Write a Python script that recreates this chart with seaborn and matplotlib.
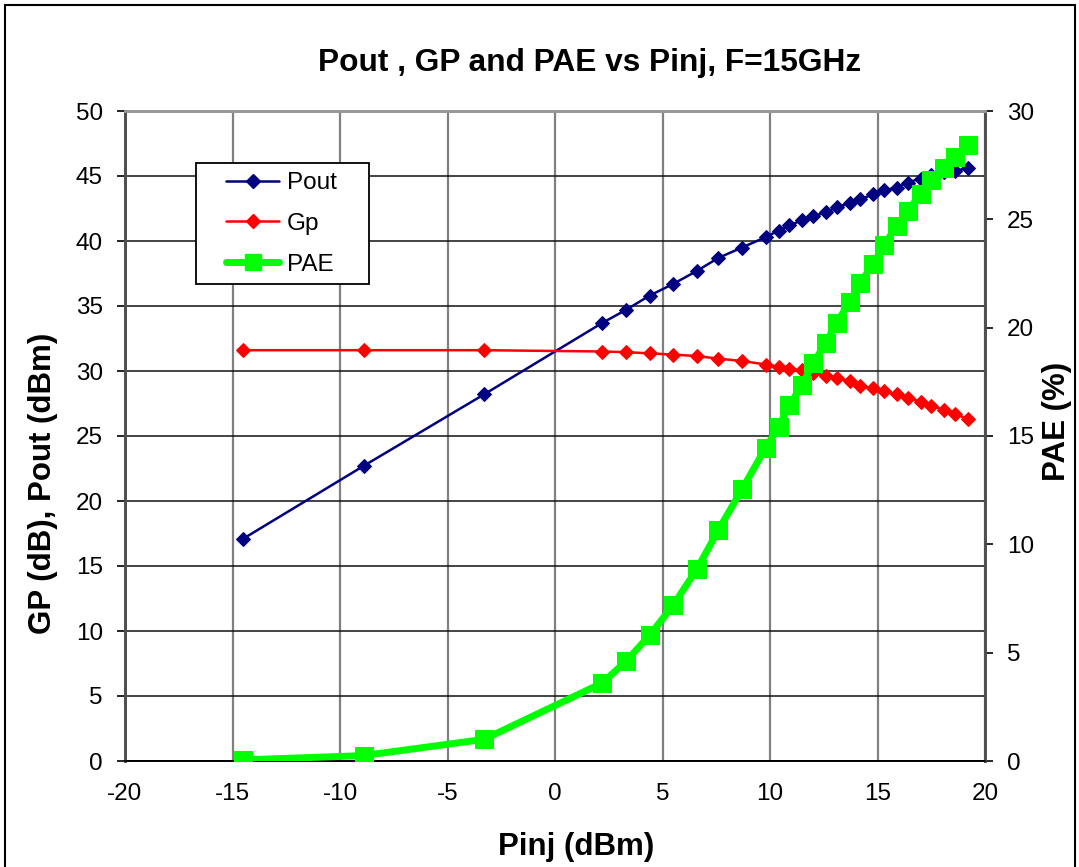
import matplotlib
matplotlib.use("Agg")
import matplotlib.pyplot as plt
import seaborn as sns
import numpy as np
from matplotlib.patches import Rectangle
from matplotlib.lines import Line2D

sns.set_theme(style="white")
plt.rcParams['font.family'] = ['Liberation Sans', 'DejaVu Sans']
plt.rcParams['axes.unicode_minus'] = False
for k in ('text.color', 'axes.labelcolor', 'xtick.color', 'ytick.color'):
    plt.rcParams[k] = 'black'

pinj = [-14.5, -8.9, -3.3, 2.2, 3.3, 4.4, 5.5, 6.6, 7.6, 8.7, 9.8, 10.4, 10.9, 11.5, 12.0,
        12.6, 13.1, 13.7, 14.2, 14.8, 15.3, 15.9, 16.4, 17.0, 17.5, 18.1, 18.6, 19.2]
pout = [17.1, 22.7, 28.2, 33.7, 34.7, 35.8, 36.7, 37.7, 38.7, 39.5, 40.3, 40.8, 41.2, 41.6, 41.9,
        42.2, 42.6, 42.9, 43.2, 43.6, 43.9, 44.1, 44.5, 44.8, 45.1, 45.3, 45.4, 45.6]
gp = [31.6, 31.6, 31.6, 31.5, 31.45, 31.36, 31.26, 31.15, 30.95, 30.77, 30.5, 30.33, 30.18, 30.05, 29.82,
      29.6, 29.44, 29.2, 28.85, 28.67, 28.48, 28.2, 27.95, 27.64, 27.33, 27.0, 26.7, 26.3]
pae = [0.05, 0.25, 1.0, 3.6, 4.6, 5.8, 7.2, 8.85, 10.66, 12.54, 14.46, 15.43, 16.43, 17.35, 18.35,
       19.3, 20.23, 21.17, 22.07, 22.93, 23.81, 24.69, 25.39, 26.15, 26.81, 27.35, 27.89, 28.43]

title = "Pout , GP and PAE vs Pinj, F=15GHz"
xlabel = "Pinj (dBm)"
ylabel_left = "GP (dB), Pout (dBm)"
ylabel_right = "PAE (%)"
series_names = ["Pout", "Gp", "PAE"]

W, H = 1079, 867
fig = plt.figure(figsize=(W / 100, H / 100), dpi=100)
fig.patch.set_facecolor("white")
fig.patches.append(Rectangle((5 / W, -0.01), 1070 / W, 1 - 5 / H + 0.01, transform=fig.transFigure,
                             fill=False, edgecolor="black", linewidth=1.5))

AX_L, AX_T, AX_R, AX_B = 125, 111, 985, 761
ax = fig.add_axes([AX_L / W, 1 - AX_B / H, (AX_R - AX_L) / W, (AX_B - AX_T) / H])
ax2 = ax.twinx()

c_pout, c_gp, c_pae = "#000080", "#FF0000", "#00FF00"
sns.lineplot(x=pinj, y=pout, ax=ax, color=c_pout, marker="D", markersize=7, markeredgecolor=c_pout,
             linewidth=1.8, legend=False, zorder=3)
sns.lineplot(x=pinj, y=gp, ax=ax, color=c_gp, marker="D", markersize=7, markeredgecolor=c_gp,
             linewidth=1.8, legend=False, zorder=3)
sns.lineplot(x=pinj, y=pae, ax=ax2, color=c_pae, marker="s", markersize=13.5, markeredgecolor=c_pae,
             linewidth=5, legend=False, zorder=4)

ax.set_xlim(-20, 20)
ax.set_ylim(0, 50)
ax2.set_ylim(0, 30)
ax.set_xticks(np.arange(-20, 21, 5))
ax.set_yticks(np.arange(0, 51, 5))
ax2.set_yticks(np.arange(0, 31, 5))

ax.grid(True, axis="x", color="#808080", linewidth=1.6)
ax.grid(True, axis="y", color="#111111", linewidth=1.1)
ax.set_axisbelow(True)
for a in (ax, ax2):
    for s in a.spines.values():
        s.set_color("black")
        s.set_linewidth(1.2)
    a.spines["top"].set_color("#999999")
    a.spines["top"].set_linewidth(2)
    a.spines["left"].set_color("#505050")
    a.spines["left"].set_linewidth(2)
    a.spines["right"].set_color("#505050")
    a.spines["right"].set_linewidth(2)
    a.tick_params(direction="out", length=6, width=1.2, color="black", labelsize=17.5, pad=10)

ax.set_xlabel(xlabel, fontsize=22.5, fontweight="bold", va="center")
ax.xaxis.set_label_coords(0.524, -0.1323)
ax.set_ylabel(ylabel_left, fontsize=22.5, fontweight="bold", va="center")
ax.yaxis.set_label_coords(-0.095, 0.427)
ax2.set_ylabel(ylabel_right, fontsize=22.5, fontweight="bold", va="center")
ax2.yaxis.set_label_coords(1.0837, 0.523)
fig.text(590 / W, 1 - 63 / H, title, ha="center", va="center", fontsize=22.8, fontweight="bold")

ax2.set_zorder(ax.get_zorder() + 1)
ax2.patch.set_visible(False)

# legend frame (Excel style, wide horizontal padding)
LG_L, LG_T, LG_R, LG_B = 196, 163, 369, 284
ax2.add_patch(Rectangle(((LG_L - AX_L) / 860, 1 - (LG_B - AX_T) / 650), (LG_R - LG_L) / 860,
                        (LG_B - LG_T) / 650, transform=ax2.transAxes, facecolor="white",
                        edgecolor="black", linewidth=1.3, zorder=9))
handles = [
    Line2D([], [], color=c_pout, marker="D", markersize=7, linewidth=1.8),
    Line2D([], [], color=c_gp, marker="D", markersize=7, linewidth=1.8),
    Line2D([], [], color=c_pae, marker="s", markersize=12, linewidth=5),
]
leg = ax2.legend(handles, series_names, loc="upper left",
                 bbox_to_anchor=((226 - AX_L) / 860, 1 - (LG_T + 9 - AX_T) / 650),
                 frameon=False, fontsize=17.5, handlelength=2.2, handletextpad=0.3,
                 borderpad=0, borderaxespad=0, labelspacing=0.78)
leg.set_zorder(10)

fig.savefig("out.png", dpi=100)
